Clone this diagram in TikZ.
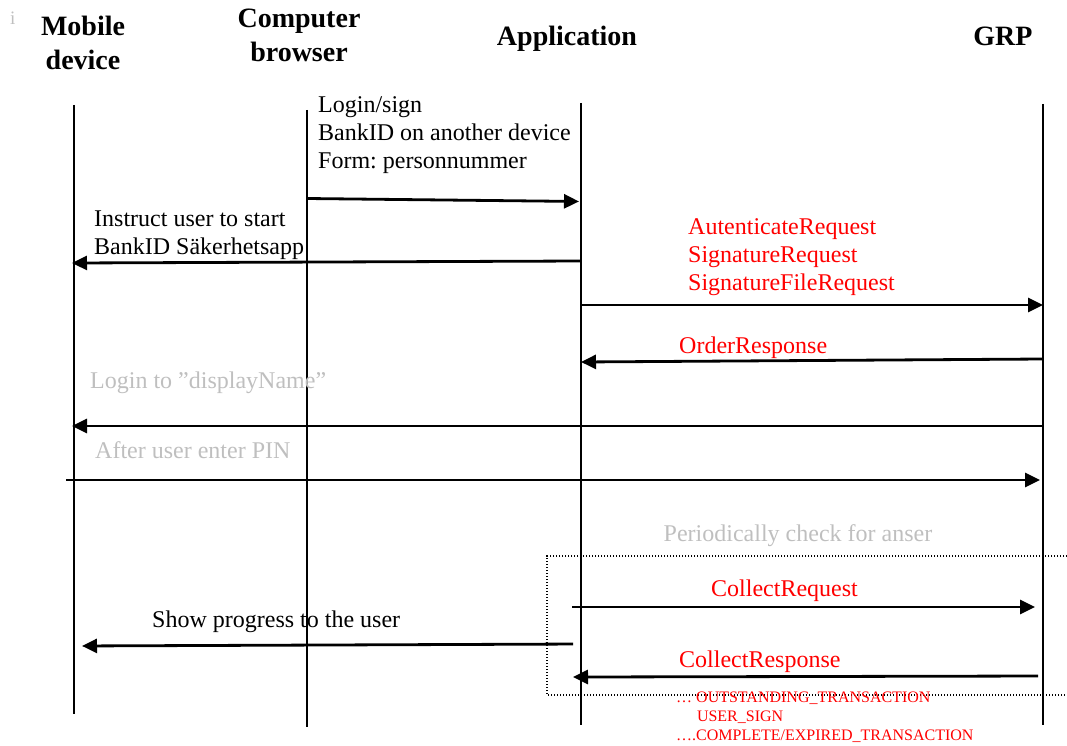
\documentclass[tikz,border=0pt]{standalone}
\usepackage{fontspec}
\setmainfont{Liberation Serif}
\usetikzlibrary{arrows.meta,calc}

\definecolor{faint}{RGB}{191,191,191}
\tikzset{
  head/.style={font=\fontsize{28}{34}\selectfont\bfseries,align=center,inner sep=0pt},
  txt/.style={font=\fontsize{24}{28}\selectfont,align=left,inner sep=0pt},
  small/.style={font=\fontsize{16}{19}\selectfont,align=left,inner sep=0pt},
  life/.style={line width=2.2pt},
  msg/.style={line width=2.8pt,-{Triangle[length=15pt,width=14pt]}},
  dotbox/.style={line width=1.5pt,dash pattern=on 1.3pt off 1.7pt}
}

\begin{document}
\frenchspacing
\begin{tikzpicture}[x=1pt,y=-1pt]
 \useasboundingbox (0,0) rectangle (1067,746);
 % headers
 \node[small,font=\fontsize{19}{19}\selectfont,text=faint,anchor=base west] (info) at (10,25) {i};
 \node[head,anchor=north] (mob) at (83,16) {Mobile\\device};
 \node[head,anchor=north] (cb) at (299,9) {Computer\\browser};
 \node[head,anchor=base] (app) at (567,46) {Application};
 \node[head,anchor=base] (grp) at (1003,46) {GRP};
 % lifelines
 \coordinate (mobT) at (74,105); \coordinate (mobB) at (74,714);
 \coordinate (cbT) at (307,110); \coordinate (cbB) at (307,727);
 \coordinate (appT) at (581,103); \coordinate (appB) at (581,725);
 \coordinate (grpT) at (1043,104); \coordinate (grpB) at (1043,725);
 \draw[life] (mobT)--(mobB) (cbT)--(cbB) (appT)--(appB) (grpT)--(grpB);
 % loop frame
 \draw[dotbox] (1067,556)--(547,556)--(547,695)--(1067,695);
 % messages
 \node[txt,anchor=north west] (login) at (318,96.5) {Login/sign\\BankID on another device\\Form: personnummer};
 \draw[msg,shorten >=2pt] (cbT |- 0,198.5)--(appT |- 0,201.5);
 \node[txt,anchor=north west] (instr) at (94,211) {Instruct user to start\\BankID Säkerhetsapp};
 \draw[msg,shorten >=-2pt] (appT |- 0,261)--(mobT |- 0,263);
 \node[txt,text=red,anchor=north west] (req) at (688,218) {AutenticateRequest\\SignatureRequest\\SignatureFileRequest};
 \draw[msg] (appT |- 0,305)--(grpT |- 0,305);
 \node[txt,text=red,anchor=base west] (ordr) at (679,353) {OrderResponse};
 \draw[msg] (grpT |- 0,359)--(appT |- 0,362);
 \node[txt,text=faint,anchor=base west] (disp) at (90,388) {Login to ”displayName”};
 \draw[msg,shorten >=-2pt] (grpT |- 0,426)--(mobT |- 0,426);
 \node[txt,text=faint,anchor=base west] (pin) at (95,458) {After user enter PIN};
 \draw[msg,shorten <=-8pt,shorten >=3pt] (mobT |- 0,480)--(grpT |- 0,480);
 \node[txt,text=faint,anchor=base] (poll) at (798,541) {Periodically check for anser};
 \node[txt,text=red,anchor=base west] (creq) at (711,596) {CollectRequest};
 \draw[msg,shorten <=-9pt,shorten >=8pt] (appT |- 0,607)--(grpT |- 0,607);
 \node[txt,anchor=base west] (prog) at (152,627) {Show progress to the user};
 \draw[msg,shorten <=8pt,shorten >=8pt] (appT |- 0,644)--(mobT |- 0,646);
 \node[txt,text=red,anchor=base west] (cres) at (679,667) {CollectResponse};
 \draw[msg,shorten <=5pt,shorten >=-8pt] (grpT |- 0,676)--(appT |- 0,677);
 \node[small,text=red,anchor=north west] (status) at (676,692) {… OUTSTANDING\_TRANSACTION\\\hspace*{1.3em}USER\_SIGN\\….COMPLETE/EXPIRED\_TRANSACTION};
\end{tikzpicture}
\end{document}
